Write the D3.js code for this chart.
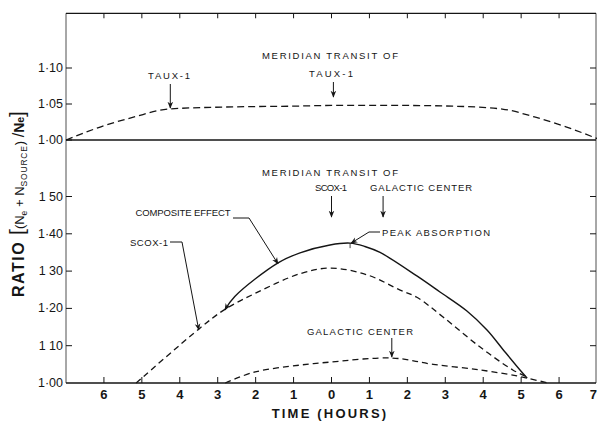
<!DOCTYPE html>
<html>
<head>
<meta charset="utf-8">
<script src="https://cdn.jsdelivr.net/npm/d3@7"></script>
<style>
  html, body { margin: 0; padding: 0; background: #fff; }
  svg { display: block; }
  text { font-family: "Liberation Sans", "DejaVu Sans", sans-serif; fill: #151515; }
</style>
</head>
<body>
<svg id="chart" width="597" height="424"></svg>
<script>
// ---- data ----------------------------------------------------------------
// hour ticks (signed: before / after meridian transit) and their printed labels
const hourTicks  = [-6, -5, -4, -3, -2, -1, 0, 1, 2, 3, 4, 5, 6, 7];
const hourLabels = ["6", "5", "4", "3", "2", "1", "0", "1", "2", "3", "4", "5", "6", "7"];

const topRatioTicks  = [1.00, 1.05, 1.10];
const topRatioLabels = ["1·00", "1·05", "1·10"];
const botRatioTicks  = [1.00, 1.10, 1.20, 1.30, 1.40, 1.50];
const botRatioLabels = ["1·00", "1 10", "1·20", "1 30", "1·40", "1 50"];

// TAUX-1 (upper panel)
const tauxTime  = [-7.0, -6.1, -5.2, -4.3, -2.6, -1.0, 0.0, 1.8, 3.2, 4.5, 5.35, 6.2, 7.0];
const tauxRatio = [1.000, 1.018, 1.032, 1.043, 1.046, 1.047, 1.048, 1.048, 1.047, 1.043, 1.032, 1.018, 1.002];

// SCOX-1 (lower panel)
const scoxTime  = [-5.15, -3.47, -2.83, -1.96, -0.83, -0.04, 0.94, 1.81, 2.25, 2.94, 3.91, 4.78, 5.16];
const scoxRatio = [1.000, 1.147, 1.196, 1.243, 1.293, 1.308, 1.290, 1.249, 1.230, 1.177, 1.097, 1.035, 1.016];

// Galactic center
const galTime  = [-2.80, -2.04, -0.83, -0.04, 1.59, 2.68, 3.92, 4.89, 5.16, 5.71];
const galRatio = [1.000, 1.029, 1.048, 1.056, 1.067, 1.050, 1.035, 1.019, 1.013, 1.000];

// Composite effect
const compTime  = [-2.81, -2.55, -1.41, -0.83, -0.04, 0.49, 0.88, 1.28, 2.25, 2.86, 3.57, 4.10, 4.52, 4.97, 5.16];
const compRatio = [1.196, 1.232, 1.322, 1.349, 1.370, 1.375, 1.366, 1.350, 1.287, 1.244, 1.193, 1.142, 1.090, 1.035, 1.013];

// ---- layout ----------------------------------------------------------------
const svg = d3.select("#chart");
const x = d3.scaleLinear().domain([-7, 7]).range([66, 597]);
const yTop = d3.scaleLinear().domain([1.00, 1.10]).range([140, 68]);
const yBot = d3.scaleLinear().domain([1.00, 1.50]).range([383, 196.5]);
const topLimit = 1.176;

const ink = "#151515";
const left = x(-7), right = 596;

const defs = svg.append("defs");
defs.append("marker")
  .attr("id", "arrow")
  .attr("viewBox", "0 0 10 10")
  .attr("refX", 9).attr("refY", 5)
  .attr("markerWidth", 7).attr("markerHeight", 7)
  .attr("markerUnits", "userSpaceOnUse")
  .attr("orient", "auto-start-reverse")
  .append("path")
  .attr("d", "M0,1 L10,5 L0,9 L3,5 Z")
  .attr("fill", ink);

const frame = svg.append("g").attr("stroke", ink).attr("fill", "none");

// frame lines
frame.append("line").attr("x1", left).attr("x2", right)
  .attr("y1", yTop(topLimit)).attr("y2", yTop(topLimit)).attr("stroke-width", 1.3);
frame.append("line").attr("x1", left).attr("x2", right)
  .attr("y1", yTop(1.0)).attr("y2", yTop(1.0)).attr("stroke-width", 1.3);
frame.append("line").attr("x1", left).attr("x2", right)
  .attr("y1", yBot(1.0)).attr("y2", yBot(1.0)).attr("stroke-width", 1.3);
frame.append("line").attr("x1", left).attr("x2", left)
  .attr("y1", yTop(topLimit)).attr("y2", yBot(1.0)).attr("stroke-width", 1).attr("stroke-opacity", 0.75);
frame.append("line").attr("x1", right).attr("x2", right)
  .attr("y1", yTop(topLimit)).attr("y2", yBot(1.0)).attr("stroke-width", 1).attr("stroke-opacity", 0.75);

// inward ticks
const innerHours = hourTicks.filter(h => h < 7);
frame.selectAll(".tt").data(innerHours).join("line")
  .attr("x1", d => x(d)).attr("x2", d => x(d))
  .attr("y1", yTop(topLimit)).attr("y2", yTop(topLimit) + 5).attr("stroke-width", 1);
frame.selectAll(".bt").data(innerHours).join("line")
  .attr("x1", d => x(d)).attr("x2", d => x(d))
  .attr("y1", yBot(1.0)).attr("y2", yBot(1.0) - 6).attr("stroke-width", 1);
frame.selectAll(".tl").data(topRatioTicks).join("line")
  .attr("x1", left).attr("x2", left + 6)
  .attr("y1", d => yTop(d)).attr("y2", d => yTop(d)).attr("stroke-width", 1);
frame.selectAll(".tr").data(topRatioTicks.slice(1)).join("line")
  .attr("x1", right - 6).attr("x2", right)
  .attr("y1", d => yTop(d)).attr("y2", d => yTop(d)).attr("stroke-width", 1);
frame.selectAll(".bl").data(botRatioTicks.slice(1)).join("line")
  .attr("x1", left).attr("x2", left + 6)
  .attr("y1", d => yBot(d)).attr("y2", d => yBot(d)).attr("stroke-width", 1);
frame.selectAll(".br").data(botRatioTicks.slice(1)).join("line")
  .attr("x1", right - 6).attr("x2", right)
  .attr("y1", d => yBot(d)).attr("y2", d => yBot(d)).attr("stroke-width", 1);

// tick labels
const labels = svg.append("g");
labels.selectAll(".hl").data(hourTicks).join("text")
  .attr("x", d => Math.min(x(d), 597)).attr("y", yBot(1.0) + 16)
  .attr("text-anchor", d => d === 7 ? "end" : "middle")
  .attr("font-size", 13).attr("font-weight", "bold")
  .text((d, i) => hourLabels[i]);
labels.selectAll(".tyl").data(topRatioTicks).join("text")
  .attr("x", left - 3).attr("y", d => yTop(d) + 4)
  .attr("text-anchor", "end").attr("font-size", 12.5)
  .text((d, i) => topRatioLabels[i]);
labels.selectAll(".byl").data(botRatioTicks).join("text")
  .attr("x", left - 3).attr("y", d => yBot(d) + 4)
  .attr("text-anchor", "end").attr("font-size", 12.5)
  .text((d, i) => botRatioLabels[i]);

labels.append("text")
  .attr("x", 330).attr("y", 418).attr("text-anchor", "middle")
  .attr("font-size", 13).attr("font-weight", "bold").attr("letter-spacing", 2.2)
  .text("TIME (HOURS)");

// y title
const yt = labels.append("text")
  .attr("transform", "translate(24,204) rotate(-90)")
  .attr("text-anchor", "middle");
yt.append("tspan").attr("font-size", 16).attr("font-weight", "bold").attr("letter-spacing", 1.5).text("RATIO ");
yt.append("tspan").attr("font-size", 21).text("[");
yt.append("tspan").attr("font-size", 13).text("(N");
yt.append("tspan").attr("font-size", 8.5).attr("dy", 3).text("e");
yt.append("tspan").attr("font-size", 13).attr("dy", -3).text(" + N");
yt.append("tspan").attr("font-size", 8.5).attr("dy", 3).attr("letter-spacing", 0.8).text("SOURCE");
yt.append("tspan").attr("font-size", 13).attr("dy", -3).text(") ");
yt.append("tspan").attr("font-size", 16).text("/");
yt.append("tspan").attr("font-size", 14).attr("font-weight", "bold").text("N");
yt.append("tspan").attr("font-size", 10.5).attr("font-weight", "bold").text("e");
yt.append("tspan").attr("font-size", 21).text("]");

// ---- curves -------------------------------------------------------------------
const lineTop = d3.line().x(d => x(d[0])).y(d => yTop(d[1])).curve(d3.curveMonotoneX);
const lineBot = d3.line().x(d => x(d[0])).y(d => yBot(d[1])).curve(d3.curveCatmullRom.alpha(0.5));
const zip = (a, b) => a.map((v, i) => [v, b[i]]);

const curves = svg.append("g").attr("fill", "none").attr("stroke", ink);
curves.append("path").attr("d", lineTop(zip(tauxTime, tauxRatio)))
  .attr("stroke-width", 1.3).attr("stroke-dasharray", "7,4");
curves.append("path").attr("d", lineBot(zip(scoxTime, scoxRatio)))
  .attr("stroke-width", 1.3).attr("stroke-dasharray", "6,4");
curves.append("path").attr("d", lineBot(zip(galTime, galRatio)))
  .attr("stroke-width", 1.3).attr("stroke-dasharray", "6,4");
curves.append("path").attr("d", lineBot(zip(compTime, compRatio)))
  .attr("stroke-width", 1.4).attr("marker-start", "url(#arrow)");

// ---- annotations ---------------------------------------------------------------
const ann = svg.append("g");
function label(txt, cx, y, width) {
  ann.append("text").attr("x", cx).attr("y", y).attr("text-anchor", "middle")
    .attr("font-size", 9.5).attr("textLength", width).attr("lengthAdjust", "spacing")
    .text(txt);
}
function pointer(points) {
  ann.append("path").attr("d", d3.line()(points)).attr("fill", "none")
    .attr("stroke", ink).attr("stroke-width", 1).attr("marker-end", "url(#arrow)");
}

// upper panel
label("TAUX-1", 169, 79, 42);
pointer([[x(-4.25), 84], [x(-4.25), yTop(1.043) - 1]]);
label("MERIDIAN TRANSIT OF", 330, 59, 136);
label("TAUX-1", 331, 77, 44);
pointer([[x(0.05), 82], [x(0.05), 97]]);

// lower panel
label("MERIDIAN TRANSIT OF", 330, 176, 136);
label("SCOX-1", 331, 191, 32);
label("GALACTIC CENTER", 421, 191, 102);
pointer([[x(0), 196], [x(0), 217]]);
pointer([[x(1.36), 196], [x(1.36), 217]]);

label("PEAK ABSORPTION", 436, 236, 108);
pointer([[380, 232], [369, 232], [x(0.49) + 1, yBot(1.375)]]);
ann.append("line").attr("x1", x(0.49)).attr("x2", x(0.49))
  .attr("y1", yBot(1.375)).attr("y2", yBot(1.375) + 5).attr("stroke", ink).attr("stroke-width", 0.8);

label("COMPOSITE EFFECT", 183, 216, 95);
pointer([[233, 218], [249, 218], [x(-1.41), yBot(1.322) + 1]]);

label("SCOX-1", 149, 246, 38);
pointer([[170, 242], [182, 242], [x(-3.5), yBot(1.145) + 1]]);

label("GALACTIC CENTER", 360, 335, 106);
pointer([[x(1.59), 338], [x(1.59), yBot(1.067) - 1]]);
</script>
</body>
</html>
